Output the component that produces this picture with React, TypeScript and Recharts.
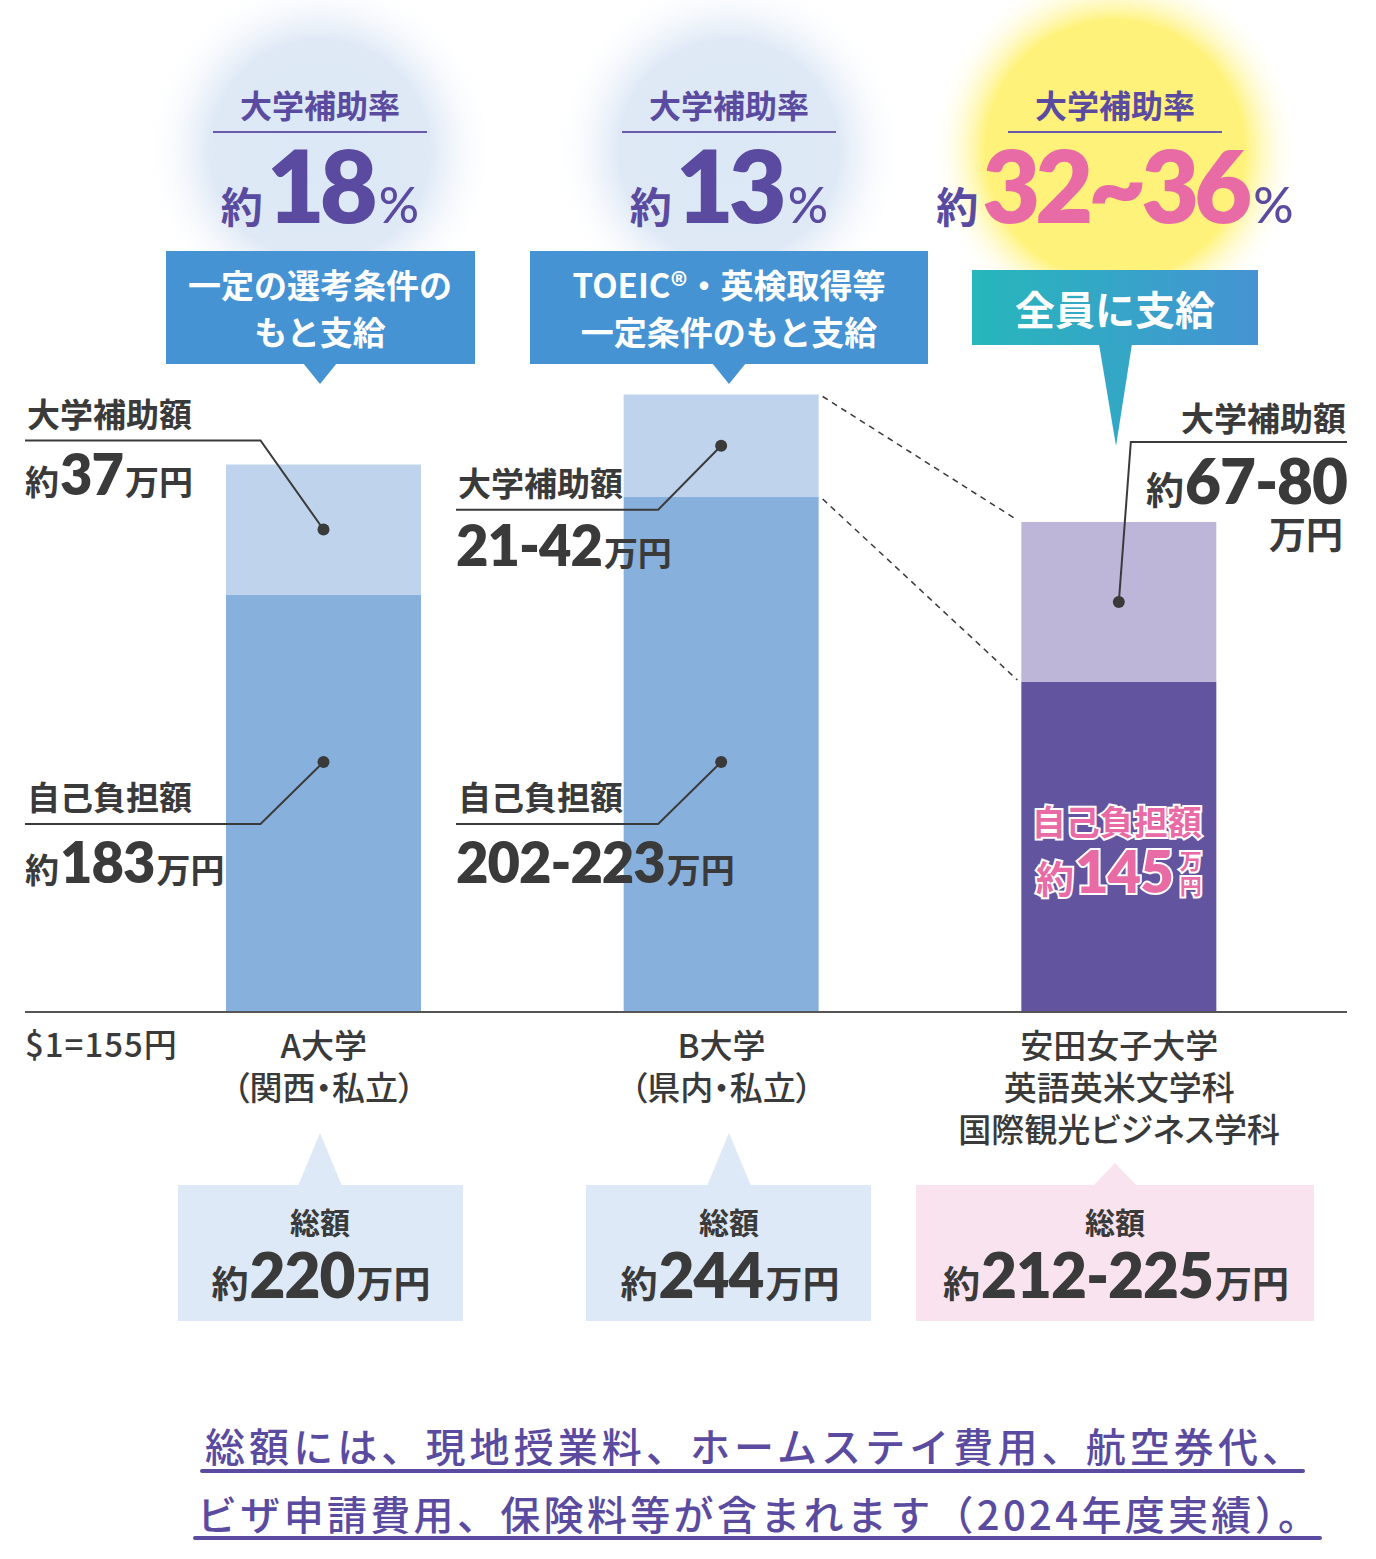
import { BarChart, Bar, XAxis, YAxis, Cell, LabelList } from "recharts";

// values (万円), split into own pay and university subsidy
const categoryLines = [
  ["A大学", "（関西・私立）"],
  ["B大学", "（県内・私立）"],
  ["安田女子大学", "英語英米文学科", "国際観光ビジネス学科"],
];
const selfPay = [167, 206, 132];
const subsidy = [52, 41, 64];
const selfPayText = ["約183", "202-223", "約145"];
const subsidyText = ["約37", "21-42", "約67-80"];
const rateText = ["18", "13", "32~36"];
const conditionText = [
  ["一定の選考条件の", "もと支給"],
  ["TOEIC®・英検取得等", "一定条件のもと支給"],
  ["全員に支給"],
];
const totalText = ["約220", "約244", "約212-225"];
const exchangeNote = "$1=155円";
const footnoteLines = [
  "総額には、現地授業料、ホームステイ費用、航空券代、",
  "ビザ申請費用、保険料等が含まれます（2024年度実績）。",
];

const selfColors = ["#88b0dd", "#88b0dd", "#6354a0"];
const subsidyColors = ["#bfd3ec", "#bfd3ec", "#bdb6d8"];

const INK = "#3a3a3a";
const PURPLE = "#5b4ba0";
const PINK = "#e96ba5";
const JP = '"Noto Sans CJK JP", "Noto Sans", sans-serif';
const NUM = 'Lato, "Noto Sans", sans-serif';

const data = categoryLines.map((lines, i) => ({
  name: lines.join(""),
  self: selfPay[i],
  subsidy: subsidy[i],
}));

// layout of the decorations, in page pixels
const headerX = [320, 729, 1115];
const calloutBox = [
  { x: 166, y: 251, w: 309, h: 113 },
  { x: 530, y: 251, w: 398, h: 113 },
  { x: 972, y: 270, w: 286, h: 75 },
];
const totalBox = [
  { x: 178, w: 285, fill: "#dde9f6" },
  { x: 586, w: 285, fill: "#dde9f6" },
  { x: 916, w: 398, fill: "#f9e3ee" },
];

type Box = { x: number; y: number; width: number; height: number };
const subsidyBoxes: Record<number, Box> = {};

function Amount({
  x,
  y,
  anchor,
  text,
  unit,
  big,
  small,
  fill = INK,
}: {
  x: number;
  y: number;
  anchor: "start" | "middle" | "end";
  text: string;
  unit?: string;
  big: number;
  small: number;
  fill?: string;
}) {
  const pre = text.startsWith("約");
  const num = pre ? text.slice(1) : text;
  return (
    <text x={x} y={y} textAnchor={anchor} fill={fill} fontWeight={700} fontFamily={JP}>
      {pre && <tspan fontSize={small}>約</tspan>}
      <tspan fontFamily={NUM} fontWeight={800} fontSize={big} dx={pre ? 1 : 0} letterSpacing={-1}>
        {num}
      </tspan>
      {unit && (
        <tspan fontSize={small} dx={2}>
          {unit}
        </tspan>
      )}
    </text>
  );
}

function Leader({ pts }: { pts: number[][] }) {
  const [d0] = pts;
  return (
    <g>
      <polyline
        points={pts.map((p) => p.join(",")).join(" ")}
        fill="none"
        stroke={INK}
        strokeWidth={2}
      />
      <circle cx={d0[0]} cy={d0[1]} r={6} fill={INK} />
    </g>
  );
}

function SelfLabel(props: any) {
  const vb = props.viewBox ?? props;
  const { x, y, width, height } = vb;
  const i: number = props.index;
  const cx = x + width / 2;
  const bottom = y + height;
  if (i === 2) {
    return (
      <g fontFamily={JP} fontWeight={700}>
        <text
          x={cx - 2}
          y={bottom - 177}
          textAnchor="middle"
          fontSize={34}
          fill={PINK}
          stroke="#fff"
          strokeWidth={4}
          paintOrder="stroke"
        >
          自己負担額
        </text>
        <g stroke="#fff" strokeWidth={4} paintOrder="stroke" fill={PINK}>
          <Amount x={cx + 54} y={bottom - 119} anchor="end" text={selfPayText[i]} big={58} small={38} fill={PINK} />
          <text x={cx + 72} y={bottom - 143} textAnchor="middle" fontSize={22} fill={PINK}>
            万
          </text>
          <text x={cx + 72} y={bottom - 118} textAnchor="middle" fontSize={22} fill={PINK}>
            円
          </text>
        </g>
      </g>
    );
  }
  // leader dot sits at 100万円 on the value scale
  const dotY = bottom - (100 * height) / selfPay[i];
  const cornerY = dotY + 62;
  const left = i === 0 ? 25 : 456;
  return (
    <g>
      <Leader pts={[[cx, dotY], [cx - 63, cornerY], [left, cornerY]]} />
      <text x={left + 2} y={cornerY - 14} fontSize={33} fontWeight={700} fontFamily={JP} fill={INK}>
        自己負担額
      </text>
      <Amount x={left} y={cornerY + 59} anchor="start" text={selfPayText[i]} unit="万円" big={56} small={34} />
    </g>
  );
}

function SubsidyLabel(props: any) {
  const vb = props.viewBox ?? props;
  const { x, y, width, height } = vb;
  const i: number = props.index;
  subsidyBoxes[i] = { x, y, width, height };
  const cx = x + width / 2;
  const cy = y + height / 2;
  if (i === 2) {
    const b = subsidyBoxes[1];
    const cornerY = cy - 160;
    return (
      <g>
        {b && (
          <g stroke={INK} strokeWidth={1.5} strokeDasharray="6 5">
            <line x1={b.x + b.width + 4} y1={b.y + 2} x2={x - 4} y2={y - 2} />
            <line x1={b.x + b.width + 4} y1={b.y + b.height + 2} x2={x - 4} y2={y + height - 2} />
          </g>
        )}
        <Leader pts={[[cx, cy], [cx + 12, cornerY], [1347, cornerY]]} />
        <text x={1346} y={cornerY - 11} textAnchor="end" fontSize={33} fontWeight={700} fontFamily={JP} fill={INK}>
          大学補助額
        </text>
        <Amount x={1347} y={cornerY + 62} anchor="end" text={subsidyText[i]} big={62} small={38} />
        <text x={1343} y={cornerY + 107} textAnchor="end" fontSize={37} fontWeight={700} fontFamily={JP} fill={INK}>
          万円
        </text>
      </g>
    );
  }
  const cornerY = i === 0 ? cy - 89 : cy + 64;
  const left = i === 0 ? 25 : 456;
  return (
    <g>
      <Leader pts={[[cx, cy], [cx - 63, cornerY], [left, cornerY]]} />
      <text x={left + 2} y={cornerY - 14} fontSize={33} fontWeight={700} fontFamily={JP} fill={INK}>
        大学補助額
      </text>
      <Amount
        x={left}
        y={cornerY + (i === 0 ? 54 : 56)}
        anchor="start"
        text={subsidyText[i]}
        unit="万円"
        big={56}
        small={34}
      />
    </g>
  );
}

function CategoryTick(props: any) {
  const { x, y, payload } = props;
  const lines = categoryLines[payload.index] ?? [];
  return (
    <g>
      {lines.map((ln, k) => (
        <text
          key={k}
          x={x}
          y={y + 46 + k * 42}
          textAnchor="middle"
          fontSize={33}
          fontWeight={500}
          fontFamily={JP}
          fill={INK}
          style={{ fontFeatureSettings: '"palt"' }}
        >
          {ln}
        </text>
      ))}
    </g>
  );
}

function Decorations() {
  return (
    <svg
      width={1376}
      height={1559}
      style={{ position: "absolute", left: 0, top: 0 }}
      fontFamily={JP}
    >
      <defs>
        <radialGradient id="glowBlue">
          <stop offset="0%" stopColor="#dce8f6" />
          <stop offset="62%" stopColor="#dfe9f6" />
          <stop offset="100%" stopColor="#ffffff" stopOpacity={0} />
        </radialGradient>
        <radialGradient id="glowYellow">
          <stop offset="0%" stopColor="#fff27a" />
          <stop offset="70%" stopColor="#fff27a" />
          <stop offset="100%" stopColor="#ffffff" stopOpacity={0} />
        </radialGradient>
        <linearGradient id="tealBlue" x1="0" x2="1" y1="0" y2="0">
          <stop offset="0%" stopColor="#26b7bb" />
          <stop offset="100%" stopColor="#4593d3" />
        </linearGradient>
        <linearGradient id="tealPointer" x1="0" x2="0" y1="0" y2="1">
          <stop offset="0%" stopColor="#36a6c6" />
          <stop offset="100%" stopColor="#2fa9c4" />
        </linearGradient>
      </defs>

      {headerX.map((hx, i) => (
        <g key={`h${i}`}>
          <circle cx={hx} cy={150} r={i === 2 ? 185 : 178} fill={i === 2 ? "url(#glowYellow)" : "url(#glowBlue)"} />
          <text x={hx} y={118} textAnchor="middle" fontSize={32} fontWeight={700} fill={PURPLE}>
            大学補助率
          </text>
          <line x1={hx - 107} x2={hx + 107} y1={132} y2={132} stroke="#6a5aaa" strokeWidth={2} />
          <text x={hx} y={223} textAnchor="middle" fontWeight={700} fill={PURPLE}>
            <tspan fontSize={42}>約</tspan>
            <tspan
              fontFamily={NUM}
              fontWeight={800}
              fontSize={100}
              letterSpacing={-5}
              fill={i === 2 ? PINK : PURPLE}
              dx={4}
            >
              {rateText[i]}
            </tspan>
            <tspan fontSize={50} fontFamily={NUM} fontWeight={500} dx={6}>
              %
            </tspan>
          </text>
        </g>
      ))}

      {calloutBox.map((b, i) => {
        const hx = headerX[i];
        const c = conditionText[i];
        if (i === 2) {
          return (
            <g key={`c${i}`}>
              <polygon points={`${hx - 16},${b.y + b.h - 1} ${hx + 17},${b.y + b.h - 1} ${hx + 1},446`} fill="url(#tealPointer)" />
              <rect x={b.x} y={b.y} width={b.w} height={b.h} fill="url(#tealBlue)" />
              <text x={hx} y={325} textAnchor="middle" fontSize={40} fontWeight={700} fill="#fff">
                {c[0]}
              </text>
            </g>
          );
        }
        return (
          <g key={`c${i}`}>
            <rect x={b.x} y={b.y} width={b.w} height={b.h} fill="#4593d2" />
            <polygon points={`${hx - 17},${b.y + b.h - 1} ${hx + 17},${b.y + b.h - 1} ${hx},384`} fill="#4593d2" />
            {c.map((ln, k) => (
              <text key={k} x={hx} y={298 + k * 47} textAnchor="middle" fontSize={33} fontWeight={700} fill="#fff">
                {ln}
              </text>
            ))}
          </g>
        );
      })}

      <text x={25} y={1057} fontSize={33} fontWeight={500} fill={INK} letterSpacing={1}>
        {exchangeNote}
      </text>

      {totalBox.map((b, i) => {
        const hx = headerX[i];
        const tipY = i === 2 ? 1163 : 1133;
        return (
          <g key={`t${i}`}>
            <rect x={b.x} y={1185} width={b.w} height={136} fill={b.fill} />
            <polygon points={`${hx - 22},1186 ${hx + 22},1186 ${hx},${tipY}`} fill={b.fill} />
            <text x={hx} y={1234} textAnchor="middle" fontSize={30} fontWeight={700} fill={INK}>
              総額
            </text>
            <Amount x={hx + 1} y={1298} anchor="middle" text={totalText[i]} unit="万円" big={62} small={37} />
          </g>
        );
      })}

      {footnoteLines.map((ln, k) => (
        <g key={`f${k}`}>
          <text
            x={k === 0 ? 205 : 197}
            y={1462 + k * 68}
            fontSize={40}
            fontWeight={500}
            fill={PURPLE}
            textLength={k === 0 ? 1097 : 1121}
            lengthAdjust="spacing"
          >
            {ln}
          </text>
          <rect
            x={k === 0 ? 200 : 193}
            y={1469 + k * 67}
            width={k === 0 ? 1105 : 1129}
            height={4}
            rx={2}
            fill={PURPLE}
          />
        </g>
      ))}
    </svg>
  );
}

export default function App() {
  return (
    <div
      style={{
        position: "absolute",
        left: 0,
        top: 0,
        width: 1376,
        height: 1559,
        background: "#fff",
        overflow: "hidden",
      }}
    >
      <Decorations />
      <div style={{ position: "absolute", left: 0, top: 0 }}>
        <BarChart
          width={1376}
          height={1559}
          data={data}
          margin={{ top: 387, right: 29, bottom: 397, left: 25 }}
        >
          <XAxis
            dataKey="name"
            height={150}
            padding={{ left: 100, right: 29 }}
            tickLine={false}
            tickSize={0}
            tickMargin={0}
            axisLine={{ stroke: "#555", strokeWidth: 2 }}
            tick={<CategoryTick />}
            interval={0}
          />
          <YAxis hide domain={[0, 250]} />
          <Bar dataKey="self" stackId="cost" barSize={195} isAnimationActive={false}>
            {data.map((_, i) => (
              <Cell key={i} fill={selfColors[i]} />
            ))}
            <LabelList dataKey="self" content={<SelfLabel />} />
          </Bar>
          <Bar dataKey="subsidy" stackId="cost" barSize={195} isAnimationActive={false}>
            {data.map((_, i) => (
              <Cell key={i} fill={subsidyColors[i]} />
            ))}
            <LabelList dataKey="subsidy" content={<SubsidyLabel />} />
          </Bar>
        </BarChart>
      </div>
    </div>
  );
}
